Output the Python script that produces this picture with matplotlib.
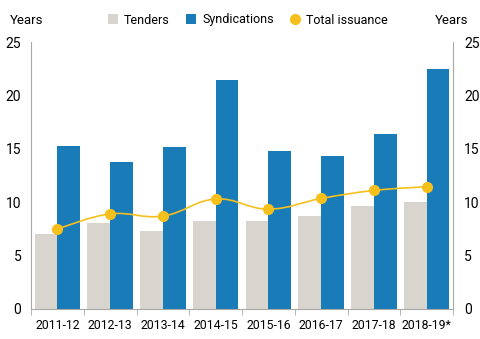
import matplotlib
matplotlib.use("Agg")
import matplotlib.pyplot as plt
import numpy as np
from matplotlib.path import Path
from matplotlib.patches import PathPatch
from matplotlib import font_manager

years = ["2011-12", "2012-13", "2013-14", "2014-15", "2015-16", "2016-17", "2017-18", "2018-19*"]
tenders = [7.0, 8.05, 7.35, 8.2, 8.2, 8.75, 9.6, 10.05]
syndications = [15.3, 13.75, 15.2, 21.4, 14.75, 14.35, 16.4, 22.5]
total_issuance = [7.5, 8.9, 8.7, 10.3, 9.35, 10.35, 11.1, 11.45]

c_tend = "#d8d5ce"
c_synd = "#1a7bb9"
c_total = "#f6c01c"
c_axis = "#a8a8a8"

names = {f.name for f in font_manager.fontManager.ttflist}
fam = "Liberation Sans Narrow" if "Liberation Sans Narrow" in names else "Roboto"
plt.rcParams['font.family'] = [fam, 'DejaVu Sans']
plt.rcParams['font.size'] = 10

fig = plt.figure(figsize=(4.8, 3.39), dpi=100)
ax = fig.add_axes([31/480, 30/339, 422/480, 267/339])
x = np.arange(len(years))
w = 0.43
ax.bar(x - w, tenders, w, align='edge', color=c_tend, label='Tenders')
ax.bar(x, syndications, w, align='edge', color=c_synd, label='Syndications')

# smooth curve through the points (Catmull-Rom -> cubic bezier)
pts = np.column_stack([x, total_issuance]).astype(float)
verts = [tuple(pts[0])]
codes = [Path.MOVETO]
t = 0.2
for i in range(len(pts) - 1):
    p0 = pts[i - 1] if i > 0 else pts[i]
    p1 = pts[i]
    p2 = pts[i + 1]
    p3 = pts[i + 2] if i + 2 < len(pts) else pts[i + 1]
    c1 = p1 + (p2 - p0) * t
    c2 = p2 - (p3 - p1) * t
    verts += [tuple(c1), tuple(c2), tuple(p2)]
    codes += [Path.CURVE4] * 3
ax.add_patch(PathPatch(Path(verts, codes), facecolor='none', edgecolor=c_total, lw=1.2, zorder=3))
ax.plot(x, total_issuance, 'o', color=c_total, ms=7, zorder=4, label='Total issuance')

ax.set_xlim(-0.5, len(years) - 0.5)
ax.set_ylim(0, 25)
ax.set_yticks(range(0, 26, 5))
ax.set_xticks(x)
ax.set_xticklabels(years, fontsize=8.8)
ax.set_xticks(np.arange(-0.5, len(years), 1), minor=True)
ax.tick_params(axis='x', which='major', length=0, pad=7)
ax.tick_params(axis='x', which='minor', length=4, color=c_axis)
ax.tick_params(axis='y', length=0, pad=7)
for s in ['top']:
    ax.spines[s].set_visible(False)
for s in ['left', 'right', 'bottom']:
    ax.spines[s].set_color(c_axis)
    ax.spines[s].set_linewidth(0.8)

ax2 = ax.twinx()
ax2.set_ylim(0, 25)
ax2.set_yticks(range(0, 26, 5))
ax2.tick_params(axis='y', length=0, pad=8)
for s in ['top', 'left', 'right', 'bottom']:
    ax2.spines[s].set_visible(False)

fig.text(10/480, 1 - 20/339, "Years", va='center', ha='left', fontsize=9.5)
fig.text(468/480, 1 - 20/339, "Years", va='center', ha='right', fontsize=9.5)

h, l = ax.get_legend_handles_labels()
order = [l.index('Tenders'), l.index('Syndications'), l.index('Total issuance')]
fig.legend([h[i] for i in order], [l[i] for i in order], loc='center',
           bbox_to_anchor=(248/480, 1 - 20/339), ncol=3, frameon=False, fontsize=9,
           handlelength=0.8, handleheight=0.8, handletextpad=0.5, columnspacing=1.3, borderpad=0)

fig.savefig("out.png", dpi=100)
